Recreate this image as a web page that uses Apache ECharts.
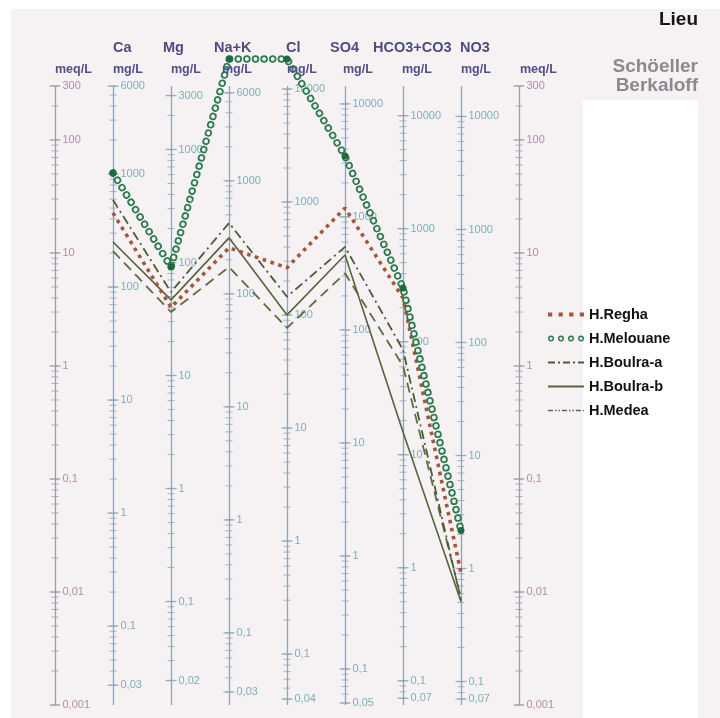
<!DOCTYPE html>
<html><head><meta charset="utf-8">
<script src="https://cdn.jsdelivr.net/npm/echarts@6/dist/echarts.min.js"></script>
<style>html,body{margin:0;padding:0;background:#fff}#c{width:720px;height:718px}</style>
</head><body><div id="c"></div>
<script>
// ---------- data ----------
const params = ['Ca', 'Mg', 'Na+K', 'Cl', 'SO4', 'HCO3+CO3', 'NO3'];
const unitLabels = ['meq/L', 'mg/L', 'mg/L', 'mg/L', 'mg/L', 'mg/L', 'mg/L', 'mg/L', 'meq/L'];
// equivalent weight of each vertical scale (meq/L scales = 1)
const eqWeights = [1, 20.04, 12.15, 23.0, 35.45, 48.03, 61.02, 62.0, 1];
const seriesNames = ['H.Regha', 'H.Melouane', 'H.Boulra-a', 'H.Boulra-b', 'H.Medea'];
// values in meq/L for Ca, Mg, Na+K, Cl, SO4, HCO3+CO3, NO3
const regha     = [22.6, 3.3, 11.1, 7.4, 25, 4.0, 0.0147];
const melouane  = [51, 7.5, 520, 520, 72, 4.9, 0.035];
const bouiraA   = [29.4, 4.5, 18.4, 4.1, 11.3, 1.39, 0.0085];
const bouiraB   = [12.5, 3.84, 13.6, 2.83, 9.6, 0.26, 0.0082];
const medea     = [10.4, 3.0, 7.5, 2.17, 6.6, 1.0, 0.0088];
// tick labels of each vertical scale (in that scale's unit)
const meqLabels  = [300, 100, 10, 1, 0.1, 0.01, 0.001];
const caLabels   = [6000, 1000, 100, 10, 1, 0.1, 0.03];
const mgLabels   = [3000, 1000, 100, 10, 1, 0.1, 0.02];
const naLabels   = [6000, 1000, 100, 10, 1, 0.1, 0.03];
const clLabels   = [10000, 1000, 100, 10, 1, 0.1, 0.04];
const so4Labels  = [10000, 1000, 100, 10, 1, 0.1, 0.05];
const hco3Labels = [10000, 1000, 100, 10, 1, 0.1, 0.07];
const no3Labels  = [10000, 1000, 100, 10, 1, 0.1, 0.07];
const axisLabelSets = [meqLabels, caLabels, mgLabels, naLabels, clLabels, so4Labels, hco3Labels, no3Labels, meqLabels];

// ---------- build ----------
const FONT = 'Liberation Sans, Arial, sans-serif';
const BG = '#f6f2f4';
const MEQ_COL = '#a07096', MG_COL = '#5c9ea6';
const MEQ_LINE = '#a397ab', MG_LINE = '#8fa4b4';
const fmt = v => String(+v.toPrecision(6)).replace('.', ',');
const pts = arr => arr.map((v, i) => [i + 1, v]);

const minorData = [], majorData = [];
axisLabelSets.forEach((labs, i) => {
  const w = eqWeights[i];
  const isMeq = unitLabels[i] === 'meq/L';
  const lo = 0.001 * w, hi = 300 * w;
  for (let k = -3; k <= 4; k++) {
    for (let m = 1; m <= 9; m++) {
      const v = m * Math.pow(10, k);
      if (v >= lo * 0.999 && v <= hi * 1.001) {
        minorData.push({ value: [i, v / w], itemStyle: { color: isMeq ? MEQ_LINE : MG_LINE } });
      }
    }
  }
  labs.forEach(v => majorData.push({
    value: [i, v / w], name: fmt(v),
    itemStyle: { color: isMeq ? MEQ_LINE : MG_LINE },
    label: { color: isMeq ? MEQ_COL : MG_COL }
  }));
});

// legend icons
let rings = '';
[3, 13, 23, 33].forEach(c => {
  rings += `M${c - 3},3A3,3 0 1 1 ${c + 3},3A3,3 0 1 1 ${c - 3},3Z M${c - 1.6},3A1.6,1.6 0 1 0 ${c + 1.6},3A1.6,1.6 0 1 0 ${c - 1.6},3Z `;
});
const iconRegha = 'path://M0,0h4v4h-4z M10,0h4v4h-4z M20,0h4v4h-4z M30,0h4v4h-4z';
const iconMel = 'path://' + rings;
const iconA = 'path://M0,0h7v2h-7z M10,0h2v2h-2z M15,0h7v2h-7z M25,0h2v2h-2z M30,0h6v2h-6z';
const iconB = 'path://M0,0h36v2h-36z';
const iconMed = 'path://M0,0h5v1.5h-5z M7,0h1.5v1.5h-1.5z M10.5,0h1.5v1.5h-1.5z M14,0h5v1.5h-5z M21,0h1.5v1.5h-1.5z M24.5,0h1.5v1.5h-1.5z M28,0h5v1.5h-5z M35,0h1v1.5h-1z';

// header texts
const paramX = [113, 163, 214, 286, 330, 373, 460];
const unitX = [55, 113, 171, 222, 287, 343, 402, 461, 520];
const texts = [];
params.forEach((p, i) => texts.push({
  type: 'text', z: 100,
  style: { text: p, x: paramX[i], y: 48, fill: '#4c4c7e', font: 'bold 14.5px ' + FONT, textAlign: 'left', textVerticalAlign: 'middle', align: 'left', verticalAlign: 'middle' }
}));
unitLabels.forEach((u, i) => texts.push({
  type: 'text', z: 100,
  style: { text: u, x: unitX[i], y: 70, fill: '#50508a', font: 'bold 12.5px ' + FONT, textAlign: 'left', textVerticalAlign: 'middle', align: 'left', verticalAlign: 'middle' }
}));
texts.push({ type: 'text', z: 100, style: { text: 'Lieu', x: 698, y: 20, fill: '#151515', font: 'bold 19px ' + FONT, textAlign: 'right', textVerticalAlign: 'middle', align: 'right', verticalAlign: 'middle' } });
texts.push({ type: 'text', z: 100, style: { text: 'Schöeller', x: 698, y: 67, fill: '#8b8a8f', font: 'bold 19px ' + FONT, textAlign: 'right', textVerticalAlign: 'middle', align: 'right', verticalAlign: 'middle' } });
texts.push({ type: 'text', z: 100, style: { text: 'Berkaloff', x: 698, y: 86, fill: '#8b8a8f', font: 'bold 19px ' + FONT, textAlign: 'right', textVerticalAlign: 'middle', align: 'right', verticalAlign: 'middle' } });

const chart = echarts.init(document.getElementById('c'), null, { renderer: 'canvas', width: 720, height: 718 });
chart.setOption({
  animation: false,
  backgroundColor: '#ffffff',
  graphic: { elements: [
    { type: 'rect', z: -10, shape: { x: 11, y: 9, width: 709, height: 709 }, style: { fill: BG } },
    { type: 'rect', z: -9, shape: { x: 583, y: 100, width: 115, height: 618 }, style: { fill: '#ffffff' } },
    ...texts
  ] },
  grid: { left: 55, right: 201, top: 86, bottom: 13, containLabel: false },
  xAxis: {
    type: 'value', min: 0, max: 8, interval: 1,
    axisLine: { show: false }, axisTick: { show: false }, axisLabel: { show: false },
    splitLine: { show: true, lineStyle: { width: 1.3, color: [MEQ_LINE, MG_LINE, MG_LINE, MG_LINE, MG_LINE, MG_LINE, MG_LINE, MG_LINE, MEQ_LINE] } }
  },
  yAxis: {
    type: 'log', logBase: 10, min: 0.001, max: 300,
    axisLine: { show: false }, axisTick: { show: false }, axisLabel: { show: false }, splitLine: { show: false }
  },
  legend: {
    orient: 'vertical', left: 543, top: 302, itemWidth: 36, itemHeight: 6, itemGap: 9, itemTextGap: 11,
    selectedMode: false, itemStyle: { borderWidth: 0 },
    textStyle: { fontFamily: FONT, fontWeight: 'bold', fontSize: 14.5, color: '#111' },
    data: [
      { name: seriesNames[0], icon: iconRegha },
      { name: seriesNames[1], icon: iconMel },
      { name: seriesNames[2], icon: iconA },
      { name: seriesNames[3], icon: iconB },
      { name: seriesNames[4], icon: iconMed }
    ]
  },
  series: [
    { name: 'minorTicks', type: 'scatter', silent: true, z: 1, symbol: 'rect', symbolSize: [7, 1], data: minorData },
    { name: 'majorTicks', type: 'scatter', silent: true, z: 1, symbol: 'rect', symbolSize: [11, 1.4], data: majorData,
      label: { show: true, position: 'right', distance: 2, formatter: '{b}', fontFamily: FONT, fontSize: 11 } },
    { name: seriesNames[4], type: 'line', data: pts(medea), clip: false, symbol: 'none', color: '#5d6c40',
      lineStyle: { color: '#5d6c40', width: 1.8, type: [10, 6] }, z: 3 },
    { name: seriesNames[3], type: 'line', data: pts(bouiraB), clip: false, symbol: 'none', color: '#56633b',
      lineStyle: { color: '#56633b', width: 1.6 }, z: 3 },
    { name: seriesNames[2], type: 'line', data: pts(bouiraA), clip: false, symbol: 'none', color: '#4d5a33',
      lineStyle: { color: '#4d5a33', width: 1.8, type: [9, 4, 2, 4] }, z: 3 },
    { name: seriesNames[0], type: 'line', data: pts(regha), clip: false, symbol: 'none', color: '#a4573a',
      lineStyle: { color: '#a4573a', width: 3.6, type: [3.6, 4.6], cap: 'butt' }, z: 4 },
    { name: seriesNames[1], type: 'line', data: pts(melouane), clip: false, symbol: 'none', color: '#2d7a50',
      lineStyle: { color: '#2d7a50', width: 7.5, type: [0.01, 8.6], cap: 'round' }, z: 5 },
    { name: 'melMask', type: 'line', data: pts(melouane), clip: false, symbol: 'circle', symbolSize: 7, showSymbol: true,
      itemStyle: { color: '#1f6b3e' },
      lineStyle: { color: BG, width: 4, type: [0.01, 8.6], cap: 'round' }, z: 6 }
  ]
});
</script></body></html>
